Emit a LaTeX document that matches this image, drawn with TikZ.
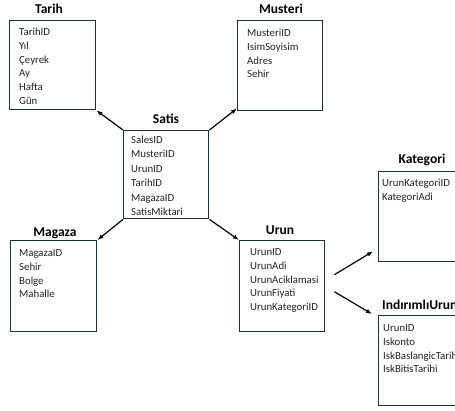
\documentclass[tikz,border=0pt]{standalone}
\usepackage{fontspec}
\setmainfont{Carlito}
\usetikzlibrary{arrows.meta,calc}

\definecolor{boxline}{RGB}{28,48,66}
\definecolor{fieldtext}{RGB}{35,35,35}

\tikzset{
  tablebox/.style={draw=boxline, line width=1.4bp, rectangle, inner sep=0pt,
    anchor=north west},
  fields/.style={anchor=north west, inner sep=0pt, align=left, text=fieldtext,
    font=\fontsize{10.8bp}{13.7bp}\selectfont},
  tabletitle/.style={inner sep=0pt, font=\bfseries\fontsize{13.5bp}{16bp}\selectfont},
  conn/.style={draw=black, line width=1.2bp, -{Latex[length=6bp,width=4.6bp]}}
}
% invisible strut fixing the height of each first field line
\newcommand{\firstline}{\rule{0pt}{8bp}}

\begin{document}
\begin{tikzpicture}[x=1bp,y=-1bp]
  \useasboundingbox (0,0) rectangle (455,410);
  \fill[white] (0,0) rectangle (455,410);
  \clip (0,0) rectangle (455,410);

  % ---- table boxes ----
  \node[tablebox, minimum width=86bp, minimum height=89bp] (tarih)    at (9,20)    {};
  \node[tablebox, minimum width=85bp, minimum height=90bp] (musteri)  at (237,20)  {};
  \node[tablebox, minimum width=85bp, minimum height=88bp] (satis)    at (123,130) {};
  \node[tablebox, minimum width=86bp, minimum height=91bp] (magaza)   at (10,240)  {};
  \node[tablebox, minimum width=85bp, minimum height=91bp] (urun)     at (239,240) {};
  \node[tablebox, minimum width=95bp, minimum height=90bp] (kategori) at (378,171) {};
  \node[tablebox, minimum width=95bp, minimum height=90bp] (indirim)  at (378,315) {};

  % ---- table titles ----
  \node[tabletitle] (tarihT)    at (49,8.5)   {Tarih};
  \node[tabletitle] (musteriT)  at (281,8.5)  {Musteri};
  \node[tabletitle] (satisT)    at (166,118.5){Satis};
  \node[tabletitle] (magazaT)   at (55,233)   {Magaza};
  \node[tabletitle] (urunT)     at (280,230)  {Urun};
  \node[tabletitle] (kategoriT) at (422,160)  {Kategori};
  \node[tabletitle, anchor=west] (indirimT) at (382,305) {IndırımlıUrun};

  % ---- field lists ----
  \node[fields] (tarihF) at (19,27.5)
    {\firstline TarihID\\Yıl\\Çeyrek\\Ay\\Hafta\\Gün};
  \node[fields] (musteriF) at (247,28.5)
    {\firstline MusteriID\\IsimSoyisim\\Adres\\Sehir};
  \node[fields, font=\fontsize{10.8bp}{14.5bp}\selectfont] (satisF) at (131,134.8)
    {\firstline SalesID\\MusteriID\\UrunID\\TarihID\\MagazaID\\SatisMiktari};
  \node[fields] (magazaF) at (19,248.5)
    {\firstline MagazaID\\Sehir\\Bolge\\Mahalle};
  \node[fields] (urunF) at (250,247.5)
    {\firstline UrunID\\UrunAdi\\UrunAciklamasi\\UrunFiyati\\UrunKategoriID};
  \node[fields] (kategoriF) at (382,178.5)
    {\firstline UrunKategoriID\\KategoriAdi};
  \node[fields] (indirimF) at (383,323.5)
    {\firstline UrunID\\Iskonto\\IskBaslangicTarihi\\IskBitisTarihi};

  % ---- relations from the fact table ----
  \draw[conn] (satis.north west) -- (tarih.south east);
  \draw[conn] (satis.north east) -- ([yshift=3bp]musteri.south west);
  \draw[conn] (satis.south west) -- (magaza.north east);
  \draw[conn] (satis.south east) -- (urun.north west);

  % ---- relations from Urun ----
  \coordinate (u1) at ([shift={(9,-11.5)}]urun.east);
  \coordinate (u2) at ([shift={(9,5.5)}]urun.east);
  \coordinate (k1) at ([shift={(-5,-11)}]kategori.south west);
  \coordinate (i1) at ([shift={(-6,-1)}]indirim.north west);
  \draw[conn] (u1) -- (k1);
  \draw[conn] (u2) -- (i1);
\end{tikzpicture}
\end{document}
